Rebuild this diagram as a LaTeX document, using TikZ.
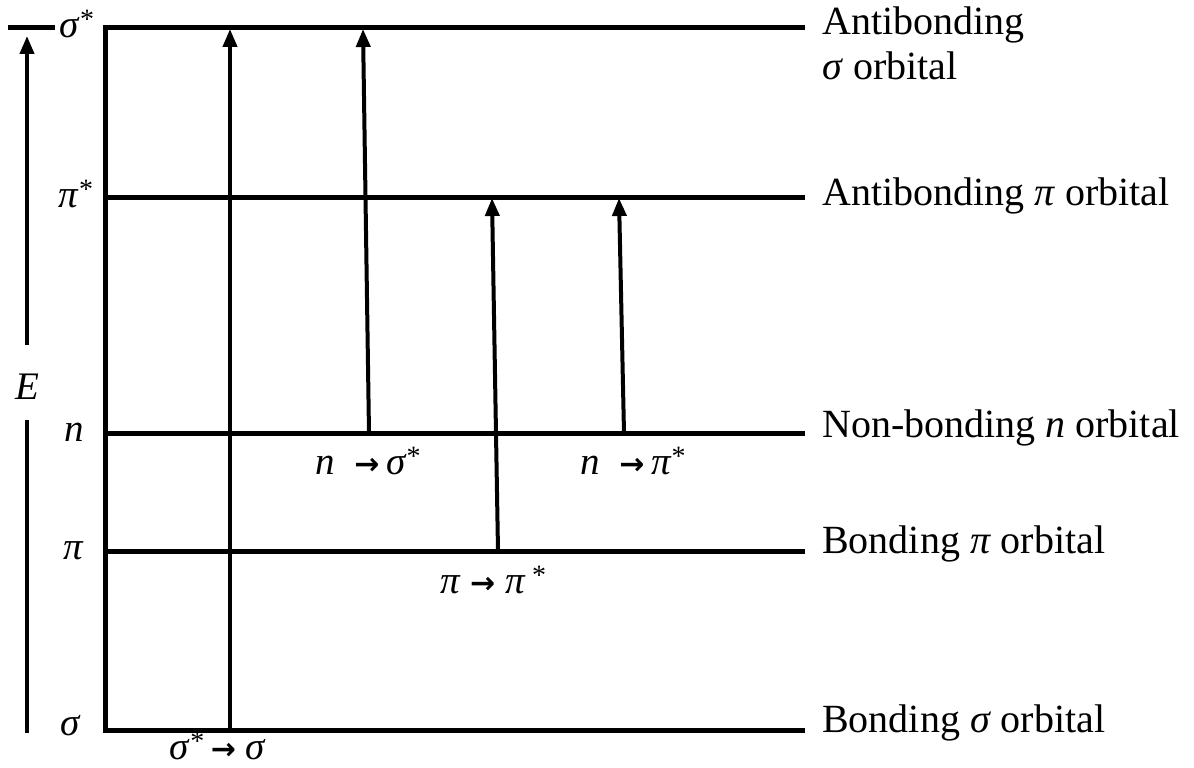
\documentclass[tikz,border=0pt]{standalone}
\usepackage{fontspec}
\setmainfont{Liberation Serif}
\newfontfamily\arr{DejaVu Sans}
\usetikzlibrary{arrows.meta}
\newcommand{\sg}{\textit{σ}}
\newcommand{\pii}{\textit{π}}
\newcommand{\ra}{{\arr\bfseries\fontsize{30}{34}\selectfont →}}
\newcommand{\st}{{\raisebox{0.22em}{\fontsize{28}{30}\selectfont *}}}
\begin{document}
\begin{tikzpicture}[x=1pt,y=-1pt,
  level/.style={line width=5pt},
  axis/.style={line width=4pt},
  trans/.style={line width=4pt,-{Triangle[length=18pt,width=14pt]}},
  lab/.style={font=\fontsize{40}{44}\selectfont,inner sep=0pt},
  sym/.style={font=\fontsize{39}{42}\selectfont,inner sep=0pt}]
\useasboundingbox (0,0) rectangle (1194,768);
% levels
\coordinate (s1L) at (105,28);  \coordinate (s1R) at (805,28);
\coordinate (p1L) at (105,197); \coordinate (p1R) at (805,197);
\coordinate (nL) at (105,433);  \coordinate (nR) at (805,433);
\coordinate (pL) at (105,551);  \coordinate (pR) at (805,551);
\coordinate (sL) at (105,730);  \coordinate (sR) at (805,730);
\draw[level] (s1L) -- (s1R);
\draw[level] (p1L) -- (p1R);
\draw[level] (nL) -- (nR);
\draw[level] (pL) -- (pR);
\draw[level] (sL) -- (sR);
\draw[level] (105,25.5) -- (105,732.5);
\coordinate (tl1) at (8,28); \coordinate (tl2) at (55,28);
\draw[level] (tl1) -- (tl2);
% energy axis
\coordinate (e0) at (27,733); \coordinate (e1) at (27,420);
\coordinate (e2) at (27,345); \coordinate (e3) at (27,36);
\draw[axis] (e0) -- (e1);
\draw[trans] (e2) -- (e3);
\node[sym] (E) at (27,387) {\textit{E}};
% level symbols
\node[sym] (ls1) at (77,24) {\sg\st};
\node[sym] (lp1) at (76,194) {\pii\st};
\node[sym] (ln) at (74,432) {\textit{n}};
\node[sym] (lp) at (74,551) {\pii};
\node[sym] (ls) at (71,726) {\sg};
% transitions
\coordinate (a1b) at (230,730); \coordinate (a1t) at (230,29);
\coordinate (a2b) at (369,433); \coordinate (a2t) at (363,29);
\coordinate (a3b) at (498,551); \coordinate (a3t) at (492,198);
\coordinate (a4b) at (624,433); \coordinate (a4t) at (619,198);
\draw[trans] (a1b) -- (a1t);
\draw[trans] (a2b) -- (a2t);
\draw[trans] (a3b) -- (a3t);
\draw[trans] (a4b) -- (a4t);
% transition labels
\node[sym] (t1) at (218,746) {\sg\st\,\ra\ \sg};
\node[sym] (t2) at (368,461) {\textit{n}\ \ \ra\,\sg\st};
\node[sym] (t3) at (493,580) {\pii\ \ra\ \pii\,\st};
\node[sym] (t4) at (633,461) {\textit{n}\ \ \ra\,\pii\st};
% right labels
\node[lab,anchor=base west] (r1) at (822,35) {Antibonding};
\node[lab,anchor=base west] (r1b) at (822,80) {\sg\ orbital};
\node[lab,anchor=base west] (r2) at (822,205) {Antibonding \pii\ orbital};
\node[lab,anchor=base west] (r3) at (822,437) {Non-bonding \textit{n} orbital};
\node[lab,anchor=base west] (r4) at (822,553) {Bonding \pii\ orbital};
\node[lab,anchor=base west] (r5) at (822,732) {Bonding \sg\ orbital};
\end{tikzpicture}
\end{document}
